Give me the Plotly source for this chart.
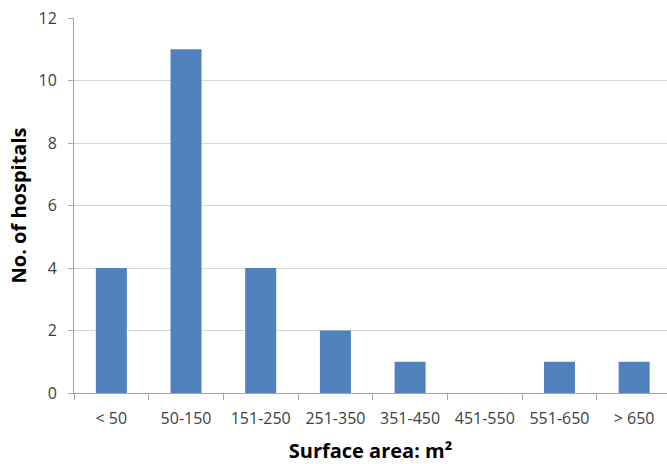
import plotly.graph_objects as go

categories = ["< 50", "50-150", "151-250", "251-350", "351-450", "451-550", "551-650", "> 650"]
hospitals = [4, 11, 4, 2, 1, 0, 1, 1]
y_ticks = [0, 2, 4, 6, 8, 10, 12]

font_family = "Open Sans, Noto Sans, Liberation Sans, sans-serif"

fig = go.Figure(
    go.Bar(
        x=categories,
        y=hospitals,
        marker=dict(color="#4F81BD", line=dict(width=0)),
    )
)

fig.update_layout(
    width=667,
    height=464,
    margin=dict(l=74, r=0, t=18, b=71, autoexpand=False),
    paper_bgcolor="white",
    plot_bgcolor="white",
    bargap=0.585,
    showlegend=False,
    font=dict(family=font_family, size=16, color="#404040"),
)

fig.update_xaxes(
    type="category",
    range=[-0.5, len(categories) - 0.56],
    automargin=False,
    showline=True,
    linecolor="#A6A6A6",
    linewidth=1,
    ticks="outside",
    tickson="boundaries",
    ticklen=6,
    tickcolor="#A6A6A6",
    showgrid=False,
    ticklabelstandoff=11,
    tickfont=dict(size=16, color="#404040"),
    title=dict(
        text="<b>Surface area: m²</b>",
        font=dict(size=20, color="#000000"),
        standoff=21,
    ),
)

fig.update_yaxes(
    range=[0, 12],
    automargin=False,
    tickvals=y_ticks,
    showline=True,
    linecolor="#A6A6A6",
    linewidth=1,
    ticks="outside",
    ticklen=5,
    tickcolor="#A6A6A6",
    showgrid=True,
    gridcolor="#D9D9D9",
    gridwidth=1,
    zeroline=False,
    ticklabelstandoff=8,
    tickfont=dict(size=16, color="#404040"),
    title=dict(
        text="<b>No. of hospitals</b>",
        font=dict(size=20, color="#000000"),
        standoff=6,
    ),
)

fig.write_html(
    "out.html",
    config={"displayModeBar": False},
    post_script="document.body.style.margin='0';document.body.style.overflow='hidden';",
)
